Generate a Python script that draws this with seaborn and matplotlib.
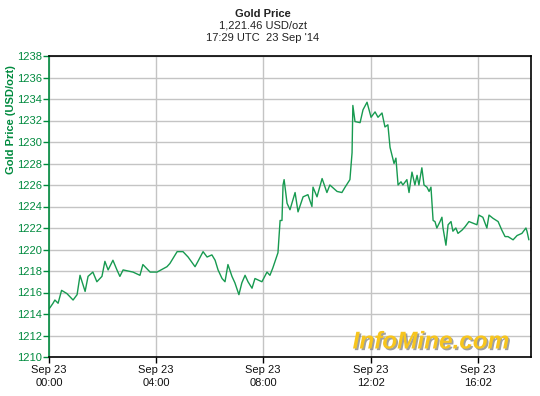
import matplotlib
matplotlib.use("Agg")
import matplotlib.pyplot as plt
import matplotlib.patheffects as pe
import seaborn as sns
import pandas as pd

hours = [0.00, 0.04, 0.15, 0.22, 0.34, 0.47, 0.67, 0.90, 1.05, 1.16, 1.35, 1.46, 1.64, 1.79, 1.98,
         2.09, 2.21, 2.39, 2.54, 2.65, 2.77, 3.14, 3.40, 3.51, 3.78, 4.04, 4.41, 4.52, 4.79, 5.01,
         5.20, 5.46, 5.57, 5.76, 5.91, 6.09, 6.21, 6.32, 6.47, 6.58, 6.69, 6.84, 6.95, 7.10, 7.21,
         7.33, 7.44, 7.59, 7.70, 7.96, 8.15, 8.26, 8.37, 8.56, 8.64, 8.71, 8.75, 8.79, 8.90, 9.01,
         9.20, 9.31, 9.50, 9.68, 9.83, 9.87, 10.02, 10.21, 10.39, 10.50, 10.77, 10.95, 11.07, 11.25,
         11.33, 11.36, 11.44, 11.63, 11.74, 11.89, 12.04, 12.19, 12.30, 12.45, 12.56, 12.67, 12.75,
         12.82, 12.90, 12.97, 13.05, 13.16, 13.23, 13.38, 13.46, 13.57, 13.68, 13.76, 13.83, 13.94,
         14.02, 14.13, 14.21, 14.28, 14.36, 14.43, 14.50, 14.62, 14.69, 14.73, 14.84, 14.92, 15.03,
         15.10, 15.21, 15.29, 15.44, 15.55, 15.70, 16.00, 16.07, 16.22, 16.37, 16.45, 16.60, 16.79,
         16.93, 17.05, 17.16, 17.35, 17.50, 17.68, 17.83, 17.87, 17.94]
price = [1214.5, 1214.6, 1215.0, 1215.3, 1215.0, 1216.2, 1215.9, 1215.3, 1215.8, 1217.6, 1216.1,
         1217.5, 1217.9, 1217.0, 1217.5, 1218.9, 1218.1, 1219.0, 1218.1, 1217.5, 1218.1, 1217.9,
         1217.6, 1218.6, 1217.9, 1217.9, 1218.4, 1218.7, 1219.8, 1219.8, 1219.3, 1218.4, 1218.9,
         1219.8, 1219.3, 1219.5, 1219.0, 1218.1, 1217.3, 1217.0, 1218.6, 1217.5, 1216.9, 1215.8,
         1216.9, 1217.6, 1217.0, 1216.4, 1217.3, 1217.0, 1217.9, 1217.6, 1218.3, 1219.7, 1222.7,
         1222.7, 1226.0, 1226.5, 1224.3, 1223.7, 1225.3, 1223.5, 1224.9, 1225.1, 1224.0, 1225.8,
         1224.9, 1226.6, 1225.3, 1226.0, 1225.4, 1225.3, 1225.8, 1226.5, 1229.0, 1233.4, 1231.9,
         1231.8, 1233.0, 1233.7, 1232.3, 1232.8, 1232.3, 1232.7, 1231.4, 1231.6, 1229.5, 1228.8,
         1228.0, 1228.5, 1226.0, 1226.3, 1226.0, 1226.5, 1225.3, 1227.2, 1226.0, 1226.9, 1226.0,
         1227.6, 1226.0, 1225.8, 1225.4, 1225.8, 1222.7, 1222.6, 1222.0, 1222.6, 1223.0, 1222.0,
         1220.4, 1222.3, 1222.6, 1221.7, 1222.0, 1221.5, 1221.8, 1222.1, 1222.6, 1222.3, 1223.2,
         1223.0, 1222.0, 1223.2, 1222.9, 1222.6, 1221.8, 1221.2, 1221.2, 1220.9, 1221.3, 1221.5,
         1222.0, 1221.7, 1220.9]

x_tick_pos = [0, 4, 8, 12.03, 16.03]
x_tick_labels = ["Sep 23\n00:00", "Sep 23\n04:00", "Sep 23\n08:00", "Sep 23\n12:02", "Sep 23\n16:02"]
y_ticks = list(range(1210, 1240, 2))

sns.set_style("white")
plt.rcParams['font.family'] = ['Liberation Sans', 'DejaVu Sans']

GREEN = "#008a3e"
LINE = "#179a50"

fig = plt.figure(figsize=(5.4, 3.96), dpi=100)
ax = fig.add_axes([49/540, 1-357/396, (531-49)/540, (357-56)/396])

df = pd.DataFrame({"hours": hours, "price": price})
sns.lineplot(data=df, x="hours", y="price", ax=ax, color=LINE, linewidth=1.0)

ax.set_xlim(0, 18.02)
ax.set_ylim(1210, 1238)
ax.set_yticks(y_ticks)
ax.set_yticklabels([str(v) for v in y_ticks], color=GREEN, fontsize=8)
ax.set_xticks(x_tick_pos)
ax.set_xticklabels(x_tick_labels, fontsize=8, color="#111111", linespacing=1.35)
ax.grid(True, color="#c4c4c4", linewidth=1.0)
ax.set_axisbelow(True)
ax.tick_params(axis="y", direction="out", length=4, width=1, color=GREEN, pad=1, left=True)
ax.tick_params(axis="x", direction="out", length=4, width=1, color="black", pad=2, bottom=True)
for s in ["top", "right", "bottom"]:
    ax.spines[s].set_color("black")
    ax.spines[s].set_linewidth(1.2)
ax.spines["left"].set_color(GREEN)
ax.spines["left"].set_linewidth(1.2)
ax.set_xlabel("")
ax.set_ylabel("Gold Price (USD/ozt)", color=GREEN, fontsize=8, fontweight="bold", labelpad=3)
ax.yaxis.set_label_coords(-0.068, 0.79)

fig.text(0.487, 1-14/396, "Gold Price", ha="center", va="center", fontsize=8, fontweight="bold", color="#222222")
fig.text(0.487, 1-26/396, "1,221.46 USD/ozt", ha="center", va="center", fontsize=8, color="#222222")
fig.text(0.487, 1-38/396, "17:29 UTC  23 Sep '14", ha="center", va="center", fontsize=8, color="#222222")

fig.text(431/540, 1-342/396, "InfoMine.com", ha="center", va="center", fontsize=17.5,
         fontweight="bold", style="italic", color="#f7c51e",
         path_effects=[pe.withSimplePatchShadow(offset=(1.2, -1.2), shadow_rgbFace="#888888", alpha=0.8)])

fig.savefig("out.png", dpi=100)
